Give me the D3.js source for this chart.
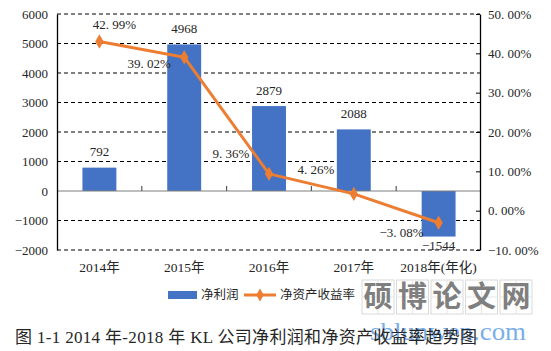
<!DOCTYPE html>
<html><head><meta charset="utf-8">
<script src="https://cdn.jsdelivr.net/npm/d3@7"></script>
<style>
body{margin:0;background:#fff;}
svg{display:block;}
text{font-family:"Liberation Serif","Noto Sans CJK SC",serif;fill:#262626;}
</style></head>
<body>
<svg id="c" width="551" height="351"></svg>
<script>
const categories = ["2014年","2015年","2016年","2017年","2018年(年化)"];
const netProfit = [792, 4968, 2879, 2088, -1544];
const roe = [0.4299, 0.3902, 0.0936, 0.0426, -0.0308];
const roeLabels = ["42.99%","39.02%","9.36%","4.26%","-3.08%"];
const leftTicks = [-2000,-1000,0,1000,2000,3000,4000,5000,6000];
const rightTicks = [-0.10,0,0.10,0.20,0.30,0.40,0.50];
const seriesNames = ["净利润","净资产收益率"];
const caption = "图 1-1 2014 年-2018 年 KL 公司净利润和净资产收益率趋势图";

const svg = d3.select("#c");
const L = 57, R = 480, T = 14, B = 250;
const x = d3.scaleBand().domain(categories).range([L, 481]).padding(0);
const yL = d3.scaleLinear().domain([-2000, 6000]).range([B, T]);
const yR = d3.scaleLinear().domain([-0.10, 0.50]).range([B, T]);
const blue = "#4472C4", orange = "#ED7D31";

// gridlines
svg.append("g").selectAll("line").data(leftTicks.filter(d => d !== 0)).join("line")
  .attr("x1", L).attr("x2", R).attr("y1", d => yL(d)).attr("y2", d => yL(d))
  .attr("stroke", "#000").attr("stroke-width", 1).attr("stroke-dasharray", "4,3");

// bars
const bw = x.bandwidth() * 0.4;
svg.append("g").selectAll("rect").data(netProfit).join("rect")
  .attr("x", (d, i) => x(categories[i]) + x.bandwidth() / 2 - bw / 2)
  .attr("width", bw)
  .attr("y", d => yL(Math.max(0, d)))
  .attr("height", d => Math.abs(yL(d) - yL(0)))
  .attr("fill", blue);

// zero line with category ticks
svg.append("line").attr("x1", L).attr("x2", R).attr("y1", yL(0)).attr("y2", yL(0))
  .attr("stroke", "#7f7f7f").attr("stroke-width", 1.2);
svg.append("g").selectAll("line").data(categories.slice(1)).join("line")
  .attr("x1", d => x(d)).attr("x2", d => x(d))
  .attr("y1", yL(0)).attr("y2", yL(0) - 5)
  .attr("stroke", "#595959").attr("stroke-width", 1.2);

// left axis
const axL = svg.append("g").attr("transform", `translate(${L},0)`)
  .call(d3.axisLeft(yL).tickValues(leftTicks).tickSize(0).tickPadding(9).tickFormat(d => d < 0 ? "−" + Math.abs(d) : d));
axL.select(".domain").attr("stroke", "#000").attr("stroke-width", 1.3);
axL.selectAll("text").attr("font-size", 13).attr("fill", "#262626").attr("font-family", "Liberation Serif");

// right axis
const axR = svg.append("g").attr("transform", `translate(${R},0)`)
  .call(d3.axisRight(yR).tickValues(rightTicks).tickSizeInner(-4).tickSizeOuter(0).tickPadding(8)
    .tickFormat(d => d3.format(".2f")(d * 100).replace("-", "−").replace(".", ". ") + "%"));
axR.select(".domain").attr("stroke", "#000").attr("stroke-width", 1.3);
axR.selectAll(".tick line").attr("stroke", "#000");
axR.selectAll("text").attr("font-size", 13).attr("fill", "#262626").attr("font-family", "Liberation Serif");

// category labels
svg.append("g").selectAll("text").data(categories).join("text")
  .attr("x", d => x(d) + x.bandwidth() / 2).attr("y", 267).attr("dy", "0.35em")
  .attr("text-anchor", "middle").attr("font-size", 13.5).text(d => d);

// bar labels
svg.append("g").selectAll("text").data(netProfit).join("text")
  .attr("x", (d, i) => x(categories[i]) + x.bandwidth() / 2)
  .attr("y", d => d >= 0 ? yL(d) - 16 : yL(d) + 9)
  .attr("dy", "0.35em").attr("text-anchor", "middle").attr("font-size", 13)
  .text(d => d < 0 ? "−" + Math.abs(d) : d);

// line
const cx = i => x(categories[i]) + x.bandwidth() / 2;
const line = d3.line().x((d, i) => cx(i)).y(d => yR(d));
svg.append("path").datum(roe).attr("d", line).attr("fill", "none")
  .attr("stroke", orange).attr("stroke-width", 3).attr("stroke-linejoin", "round");
svg.append("g").selectAll("path").data(roe).join("path")
  .attr("transform", (d, i) => `translate(${cx(i)},${yR(d)})`)
  .attr("d", d3.symbol(d3.symbolDiamond, 60)).attr("fill", orange);

// line labels
const lblOff = [[15, -17], [-35, 6], [-38, -20], [-38, -24], [-37, 10]];
svg.append("g").selectAll("text").data(roe).join("text")
  .attr("x", (d, i) => cx(i) + lblOff[i][0]).attr("y", (d, i) => yR(d) + lblOff[i][1])
  .attr("dy", "0.35em").attr("text-anchor", "middle").attr("font-size", 13)
  .text((d, i) => roeLabels[i].replace(".", ". ").replace("-", "−"));

// legend
const lg = svg.append("g");
lg.append("rect").attr("x", 168).attr("y", 291).attr("width", 29).attr("height", 8).attr("fill", blue);
lg.append("text").attr("x", 201).attr("y", 295).attr("dy", "0.35em").attr("font-size", 12.5).text(seriesNames[0]);
lg.append("line").attr("x1", 244).attr("x2", 276).attr("y1", 295).attr("y2", 295).attr("stroke", orange).attr("stroke-width", 3);
lg.append("path").attr("transform", "translate(260,295)").attr("d", d3.symbol(d3.symbolDiamond, 50)).attr("fill", orange);
lg.append("text").attr("x", 280).attr("y", 295).attr("dy", "0.35em").attr("font-size", 12.5).text(seriesNames[1]);

// watermark
const wm = svg.append("g");
const wmChars = ["硕","博","论","文","网"];
wmChars.forEach((c, i) => {
  const bx = 362 + i * 34.5;
  wm.append("rect").attr("x", bx).attr("y", 280).attr("width", 32).attr("height", 34)
    .attr("fill", "#fff").attr("stroke", "#d9d9d9").attr("stroke-width", 1);
  wm.append("line").attr("x1", bx + 16).attr("x2", bx + 16).attr("y1", 280).attr("y2", 314).attr("stroke", "#e6e6e6");
  wm.append("line").attr("x1", bx).attr("x2", bx + 32).attr("y1", 297).attr("y2", 297).attr("stroke", "#e6e6e6");
  wm.append("text").attr("x", bx + 16).attr("y", 297).attr("dy", "0.36em").attr("text-anchor", "middle")
    .attr("font-family", "Noto Sans CJK SC").attr("font-weight", "bold").attr("font-size", 29)
    .style("fill", "#7f7f7f").text(c);
});
wm.append("text").attr("x", 370).attr("y", 340)
  .attr("font-family", "Liberation Sans").attr("font-size", 25).attr("textLength", 156).attr("lengthAdjust", "spacingAndGlyphs")
  .style("fill", "#7aaee8")
  .text("sblunwen.com");

// caption
svg.append("text").attr("x", 15).attr("y", 337).attr("dy", "0.35em").attr("font-size", 17)
  .attr("textLength", 462).attr("lengthAdjust", "spacing")
  .attr("fill", "#111").text(caption);
</script>
</body></html>
